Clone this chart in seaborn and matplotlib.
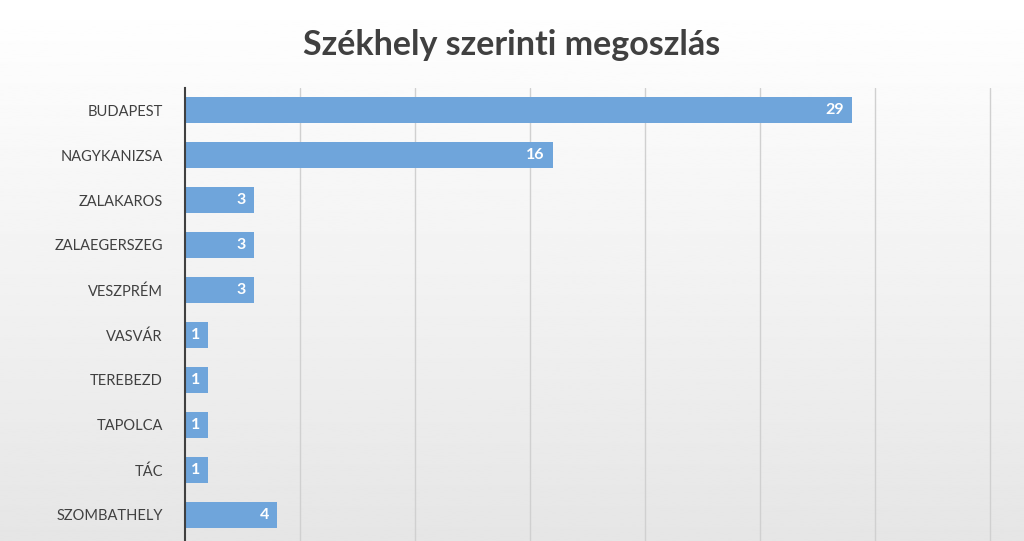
import matplotlib
matplotlib.use("Agg")
import matplotlib.pyplot as plt
import seaborn as sns
import pandas as pd
import numpy as np

cities = ["BUDAPEST", "NAGYKANIZSA", "ZALAKAROS", "ZALAEGERSZEG", "VESZPRÉM",
          "VASVÁR", "TEREBEZD", "TAPOLCA", "TÁC", "SZOMBATHELY"]
counts = [29, 16, 3, 3, 3, 1, 1, 1, 1, 4]

sns.set_theme(style="white")
plt.rcParams['font.family'] = ['Lato', 'DejaVu Sans']

fig = plt.figure(figsize=(10.24, 5.41), dpi=100)
bg = fig.add_axes([0, 0, 1, 1], zorder=-10)
grad = np.linspace(1.0, 0.90, 256).reshape(-1, 1)
bg.imshow(grad, aspect='auto', cmap='gray', vmin=0, vmax=1, extent=[0, 1, 0, 1])
bg.axis('off')

ax = fig.add_axes([185/1024, 0, 1 - 185/1024, (541-88)/541])
ax.patch.set_alpha(0)
df = pd.DataFrame({"city": cities, "n": counts})
sns.barplot(data=df, y="city", x="n", orient="h", color="#6FA5DB", saturation=1,
            width=0.58, ax=ax, edgecolor="none", linewidth=0)
ax.set_xlim(0, 36.5)
ax.set_ylim(9.58, -0.49)
for x in range(5, 40, 5):
    ax.axvline(x, color="#d0d0d0", lw=1, zorder=0)
for i, v in enumerate(counts):
    ax.text(v - 0.35, i, str(v), ha='right', va='center', color='white',
            fontsize=11.5, fontweight='bold')
ax.set_xticks([])
ax.set_xlabel("")
ax.set_ylabel("")
ax.tick_params(axis='y', length=0, pad=16, labelsize=10.5, labelcolor="#404040")
for s in ["top", "right", "bottom"]:
    ax.spines[s].set_visible(False)
ax.spines["left"].set_color("#404040")
ax.spines["left"].set_linewidth(1.5)

fig.text(0.5, 1 - 45/541, "Székhely szerinti megoszlás", ha='center', va='center',
         fontsize=24.5, fontweight='bold', color="#404040")
fig.savefig("out.png", dpi=100)
